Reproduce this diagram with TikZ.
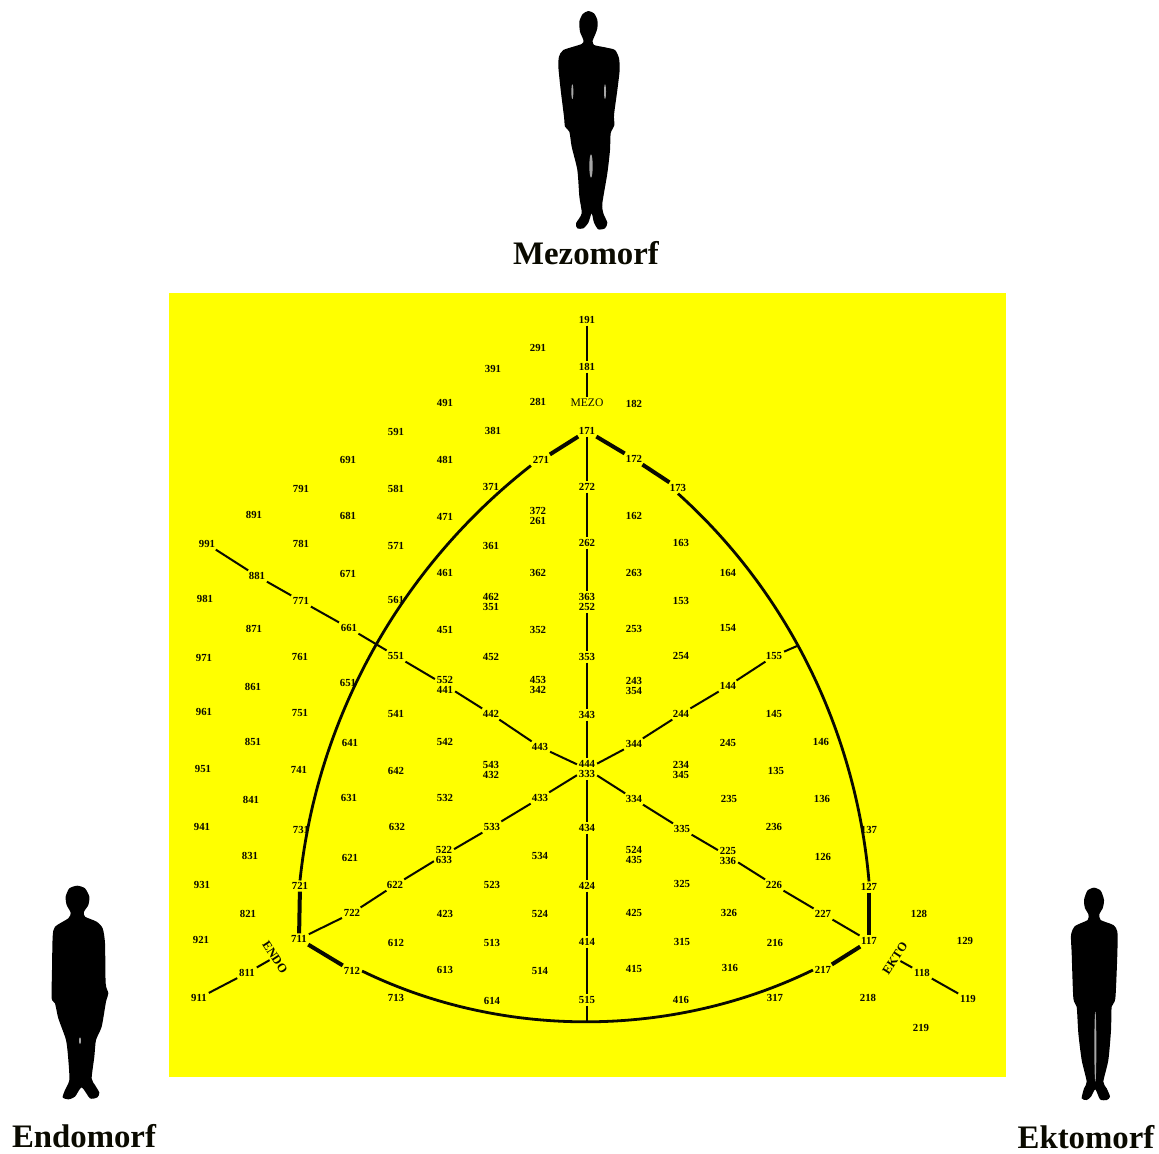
\documentclass[tikz,border=0pt]{standalone}
\usepackage{xcolor}
\usepackage{fontspec}
\setmainfont{Liberation Serif}
\definecolor{plotyellow}{HTML}{FFFF00}
\definecolor{ink}{HTML}{0A0A00}
\newcommand{\numfont}{\fontsize{5.4}{5.2}\selectfont\bfseries}
\usepackage{tikz}
\usetikzlibrary{positioning}

\begin{document}
\begin{tikzpicture}[x=0.5pt, y=-0.5pt,
    num/.style={font=\numfont, text=ink, inner sep=0.8pt, align=center},
    axisname/.style={font=\fontsize{6.2}{6.2}\selectfont\bfseries, text=ink, inner sep=0.8pt},
    typename/.style={font=\fontsize{16.4}{17}\selectfont\bfseries, text=ink, inner sep=0pt},
    axisline/.style={draw=ink, line width=1pt},
    arcline/.style={draw=ink, line width=1.4pt},
    heavyline/.style={draw=ink, line width=2pt},
    bodyfill/.style={fill=black},
    bodygap/.style={fill=white!65!black},
    bodyscale/.style={x=0.16667pt, y=-0.16667pt}]

  \useasboundingbox (0,0) rectangle (1159,1153);
  \fill[plotyellow] (169,293) rectangle (1006,1077);

  \foreach \lx/\ly/\lt in {
    587/320/191, 538/348/291, 493/369/391, 587/367/181, 538/402/281, 634/404/182,
    445/403/491, 493/431/381, 396/432/591, 587/431/171, 541/460/271, 634/459/172,
    348/460/691, 445/460/481, 301/489/791, 396/489/581, 491/487/371, 587/487/272,
    678/488/173, 254/515/891, 348/516/681, 445/517/471, 634/516/162, 681/543/163,
    207/544/991, 301/544/781, 396/546/571, 491/546/361, 587/543/262, 728/573/164,
    257/576/881, 348/574/671, 445/573/461, 538/573/362, 634/573/263, 205/599/981,
    301/601/771, 396/600/561, 681/601/153, 254/629/871, 349/628/661, 445/630/451,
    538/630/352, 634/629/253, 728/628/154, 204/658/971, 300/657/761, 396/656/551,
    491/657/452, 587/657/353, 681/656/254, 774/656/155, 253/687/861, 348/683/651,
    728/686/144, 204/712/961, 300/713/751, 396/714/541, 491/714/442, 587/715/343,
    681/714/244, 774/714/145, 253/742/851, 350/743/641, 445/742/542, 540/747/443,
    634/744/344, 728/743/245, 821/742/146, 203/769/951, 299/770/741, 396/771/642,
    776/771/135, 251/800/841, 349/798/631, 445/798/532, 540/798/433, 634/799/334,
    729/799/235, 822/799/136, 202/827/941, 301/830/731, 397/827/632, 492/827/533,
    587/828/434, 682/829/335, 774/827/236, 869/830/137, 250/856/831, 350/858/621,
    540/856/534, 823/857/126, 202/885/931, 300/886/721, 395/885/622, 492/885/523,
    587/886/424, 682/884/325, 774/885/226, 869/887/127, 248/914/821, 352/913/722,
    445/914/423, 540/914/524, 634/913/425, 729/913/326, 823/914/227, 919/914/128,
    201/940/921, 299/939/711, 396/943/612, 492/943/513, 587/942/414, 682/942/315,
    775/943/216, 869/941/117, 965/941/129, 247/973/811, 352/971/712, 445/970/613,
    540/971/514, 634/969/415, 730/968/316, 823/970/217, 922/973/118, 199/998/911,
    396/998/713, 492/1001/614, 587/1000/515, 681/1000/416, 775/998/317, 868/998/218,
    968/999/119, 921/1028/219}
    \node[num] (n\lt) at (\lx,\ly) {\lt};

  \foreach \lx/\ly/\la/\lb in {
    538/516/372/261, 491/602/462/351, 587/602/363/252, 445/685/552/441,
    538/685/453/342, 634/686/243/354, 491/770/543/432, 587/769/444/333,
    681/770/234/345, 444/855/522/633, 634/855/524/435, 728/856/225/336}
    \node[num] (n\lb) at (\lx,\ly) {\la\\\lb};

  \node[font=\fontsize{5.8}{6}\selectfont, text=ink, inner sep=0.8pt] (nmezo) at (587,403) {MEZO};
  \node[axisname, rotate=-57] (nendo) at (275,957) {ENDO};
  \node[axisname, rotate=57] (nekto) at (895,958) {EKTO};

  \coordinate (narc) at (797,646);
  \coordinate (naxisend) at (587,1022);

  \foreach \a/\b in {191/181, 181/mezo, 171/272, 272/262, 262/252, 252/353, 353/343,
      343/333, 333/434, 434/424, 424/414, 414/515, 515/axisend,
      991/881, 881/771, 771/661, 661/551, 551/441, 441/442, 442/443, 443/333,
      333/334, 334/335, 335/336, 336/226, 226/227, 227/117,
      911/811, 811/endo, 711/722, 722/622, 622/633, 633/533, 533/433, 433/333,
      333/344, 344/244, 244/144, 144/155, 155/arc, ekto/118, 118/119}
    \draw[axisline] (n\a) -- (n\b);

  \foreach \a/\b in {171/271, 171/172, 172/173, 721/711, 127/117, 711/712, 217/117}
    \draw[heavyline] (n\a) -- (n\b);

  \draw[arcline] (n271.south west) to[out=218, in=84, looseness=0.886] (n721.north);
  \draw[arcline] (n173.south) to[out=318, in=95, looseness=0.884] (n127.north);
  \draw[arcline] (n712.east) to[out=334, in=206, looseness=0.884] (n217.west);

  \begin{scope}[shift={(520,0)}, bodyscale]
    \fill[bodyfill] plot[smooth cycle, tension=0.4] coordinates {(205,33) (222,40) (232,60) (232,85)
        (225,105) (218,122) (222,135) (255,142) (285,150) (297,175) (299,210) (292,270) (282,345)
        (283,375) (272,400) (270,450) (262,520) (247,610) (250,640) (262,668) (255,685) (235,688)
        (222,668) (215,640) (205,668) (190,685) (172,685) (168,670) (185,640) (178,590) (172,510)
        (155,440) (148,395) (135,380) (132,350) (122,270) (115,200) (117,170) (130,150) (185,132)
        (190,120) (180,95) (178,65) (188,42)};
    \fill[bodygap] (157,275) ellipse (3 and 22);
    \fill[bodygap] (255,275) ellipse (3 and 22);
    \fill[bodygap] (213,498) ellipse (5 and 35);
  \end{scope}
  \node[typename] (nmezomorf) at (586,253) {Mezomorf};

  \begin{scope}[shift={(0,870)}, bodyscale]
    \fill[bodyfill] plot[smooth cycle, tension=0.4] coordinates {(232,47) (255,55) (268,80) (265,105)
        (252,125) (255,140) (290,155) (308,175) (315,220) (317,340) (325,370) (318,395) (305,470)
        (288,510) (283,560) (275,625) (285,645) (298,668) (292,682) (270,685) (245,652) (225,680)
        (205,688) (188,682) (195,660) (208,630) (205,570) (198,510) (175,445) (165,400) (155,385)
        (156,300) (158,200) (165,170) (205,145) (212,128) (200,105) (197,80) (208,55)};
    \fill[bodygap] (240,512) ellipse (3 and 10);
  \end{scope}
  \node[typename] (nendomorf) at (84,1136) {Endomorf};

  \begin{scope}[shift={(1010,870)}, bodyscale]
    \fill[bodyfill] plot[smooth cycle, tension=0.4] coordinates {(252,53) (272,62) (282,90) (278,115)
        (268,132) (272,150) (310,165) (322,185) (322,250) (316,385) (305,410) (303,480) (295,570)
        (280,635) (290,655) (300,680) (290,690) (270,688) (256,658) (243,680) (230,690) (215,685)
        (222,655) (230,635) (215,570) (205,490) (200,410) (190,385) (185,250) (183,195) (195,168)
        (233,150) (235,132) (225,115) (222,90) (232,62)};
    \fill[bodygap] (256,530) ellipse (3 and 105);
  \end{scope}
  \node[typename] (nektomorf) at (1086,1137) {Ektomorf};

\end{tikzpicture}
\end{document}
